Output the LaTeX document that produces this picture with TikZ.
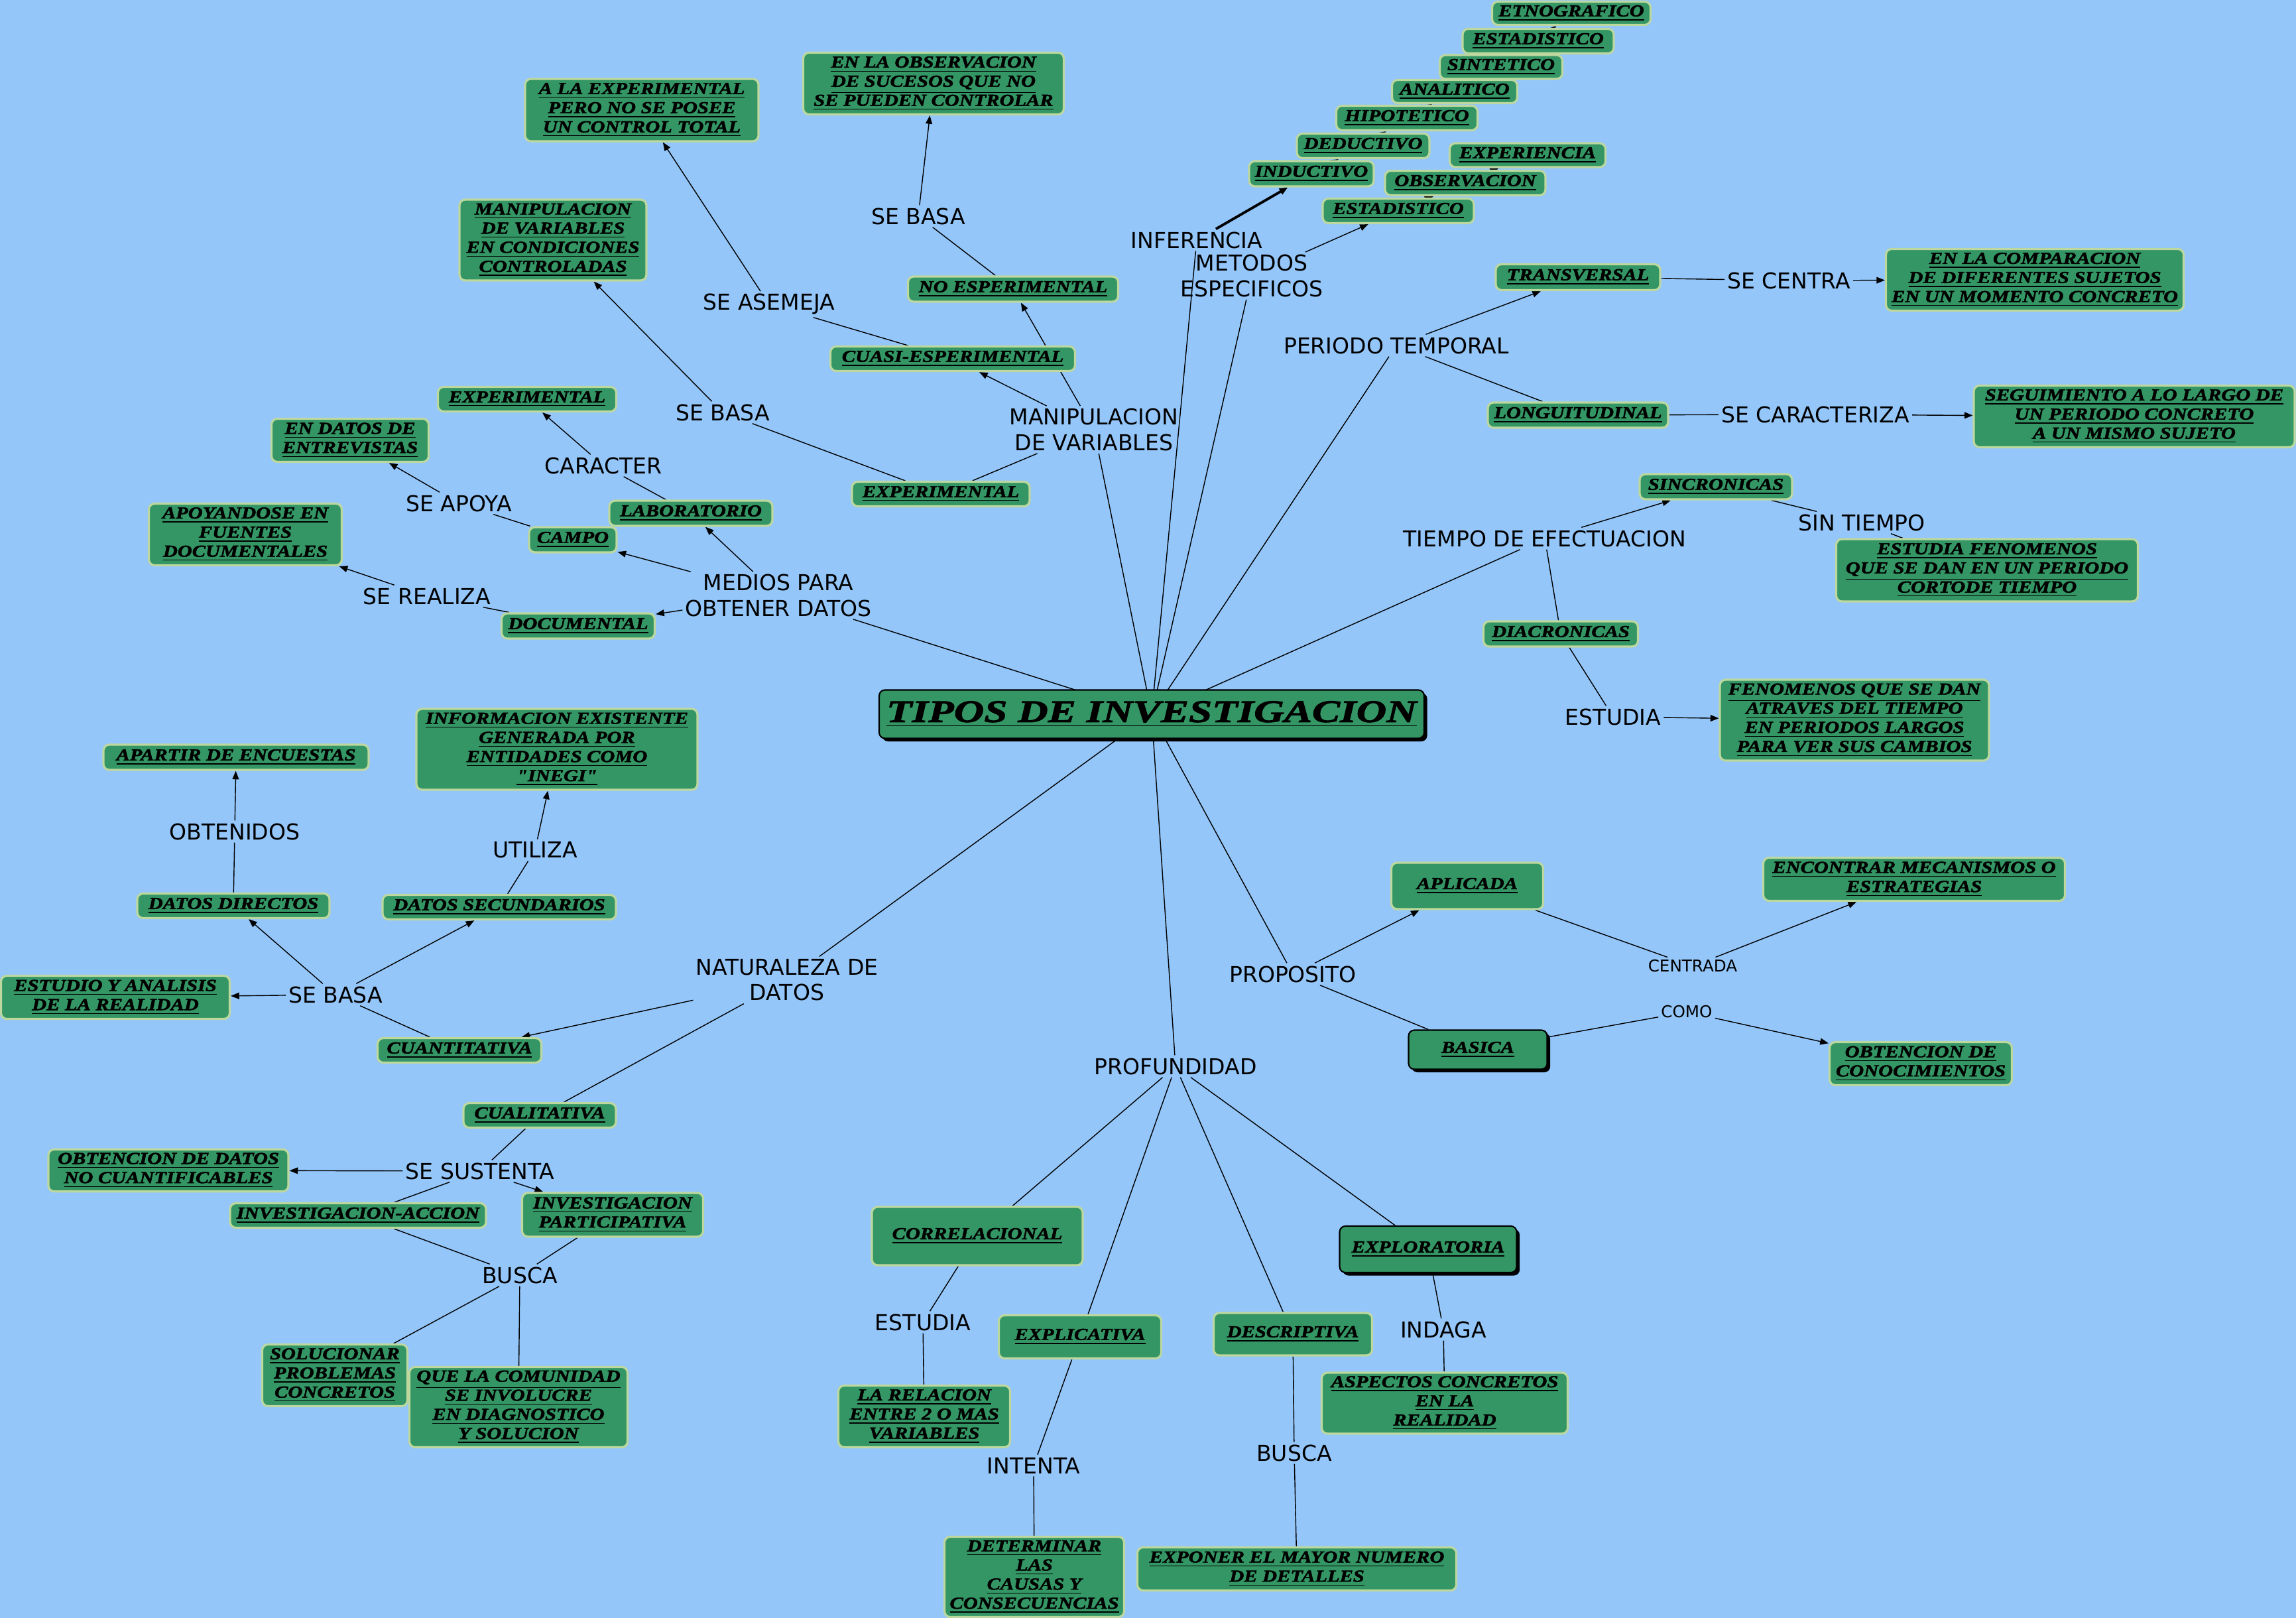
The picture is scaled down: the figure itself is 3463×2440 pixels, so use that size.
\documentclass[tikz,border=0pt]{standalone}
\usepackage{fontspec}
\usepackage{tikz}
\usetikzlibrary{arrows.meta,shadows}
\newfontfamily\etiqueta{DejaVu Sans}
\newfontfamily\concepto{Liberation Serif}[FakeStretch=1.2,FakeBold=2]
\newfontfamily\titulo{Liberation Serif}[FakeStretch=1.33,FakeBold=2]
\definecolor{azulFondo}{HTML}{94C6FA}
\definecolor{verdeCaja}{HTML}{339664}
\definecolor{bordeCaja}{HTML}{BCD89E}
\newcommand{\lin}[1]{\underline{#1}}
\pgfdeclarelayer{fondo}
\pgfdeclarelayer{lineas}
\pgfsetlayers{fondo,lineas,main}
\tikzset{
  caja/.style={rectangle,rounded corners=2.5pt,fill=verdeCaja,draw=bordeCaja,line width=0.9pt,
    align=center,inner xsep=2pt,inner ysep=1.5pt,font=\concepto\bfseries\itshape\fontsize{7.2}{8.2}\selectfont},
  sombra/.style={caja,draw=black,line width=0.6pt,drop shadow={shadow xshift=1.3pt,shadow yshift=-1.3pt,fill=black,opacity=1}},
  tam/.style 2 args={minimum width=#1*0.01cm,minimum height=#2*0.01cm},
  enlace/.style={inner sep=1pt,align=center,font=\etiqueta\fontsize{9.4}{10.9}\selectfont},
  enlacechico/.style={enlace,font=\etiqueta\fontsize{7}{8}\selectfont},
  conector/.style={line width=0.4pt},
  flecha/.style={conector,-{Triangle[length=3.6pt,width=2.8pt]}}
}

\begin{document}
\begin{tikzpicture}[x=0.01cm,y=-0.01cm]
\useasboundingbox (0,0) rectangle (3463,2440);
\begin{pgfonlayer}{fondo}
\fill[azulFondo] (0,0) rectangle (3463,2440);
\end{pgfonlayer}

\node[sombra,tam={822}{73},font=\titulo\bfseries\itshape\fontsize{13.5}{15}\selectfont] (tipos) at (1737,1077) {\lin{TIPOS DE INVESTIGACION}};

\node[caja,tam={239}{35}] (etnografico) at (2370,20) {\lin{ETNOGRAFICO}};
\node[caja,tam={228}{37}] (estadisticoA) at (2320,62) {\lin{ESTADISTICO}};
\node[caja,tam={185}{36}] (sintetico) at (2264,101) {\lin{SINTETICO}};
\node[caja,tam={189}{35}] (analitico) at (2194,138) {\lin{ANALITICO}};
\node[caja,tam={213}{37}] (hipotetico) at (2122,178) {\lin{HIPOTETICO}};
\node[caja,tam={200}{37}] (deductivo) at (2056,220) {\lin{DEDUCTIVO}};
\node[caja,tam={188}{38}] (inductivo) at (1978,262) {\lin{INDUCTIVO}};
\node[caja,tam={235}{36}] (experiencia) at (2304,234) {\lin{EXPERIENCIA}};
\node[caja,tam={242}{37}] (observacion) at (2210,276) {\lin{OBSERVACION}};
\node[caja,tam={228}{37}] (estadisticoB) at (2109,318) {\lin{ESTADISTICO}};
\node[enlace] (inferencia) at (1805,362) {INFERENCIA};
\node[enlace] (metodos) at (1888,416) {METODOS\\ESPECIFICOS};

\node[caja,tam={393}{93}] (sucesos) at (1408,126) {\lin{EN LA OBSERVACION}\\\lin{DE SUCESOS QUE NO}\\\lin{SE PUEDEN CONTROLAR}};
\node[enlace] (sebasaA) at (1385,326) {SE BASA};
\node[caja,tam={317}{38}] (noexp) at (1528,436) {\lin{NO ESPERIMENTAL}};
\node[caja,tam={369}{37}] (cuasi) at (1437,541) {\lin{CUASI-ESPERIMENTAL}};
\node[caja,tam={268}{37}] (experimental) at (1419,745) {\lin{EXPERIMENTAL}};
\node[enlace] (manip) at (1650,648) {MANIPULACION\\DE VARIABLES};
\node[enlace] (seasemeja) at (1160,459) {SE ASEMEJA};
\node[caja,tam={352}{94}] (control) at (968,166) {\lin{A LA EXPERIMENTAL}\\\lin{PERO NO SE POSEE}\\\lin{UN CONTROL TOTAL}};
\node[enlace] (sebasaB) at (1090,622) {SE BASA};
\node[caja,tam={282}{122}] (condiciones) at (834,362) {\lin{MANIPULACION}\\\lin{DE VARIABLES}\\\lin{EN CONDICIONES}\\\lin{CONTROLADAS}};

\node[enlace] (medios) at (1174,898) {MEDIOS PARA\\OBTENER DATOS};
\node[caja,tam={246}{38}] (laboratorio) at (1042,774) {\lin{LABORATORIO}};
\node[caja,tam={132}{38}] (campo) at (864,814) {\lin{CAMPO}};
\node[caja,tam={231}{38}] (documental) at (872,944) {\lin{DOCUMENTAL}};
\node[enlace] (caracter) at (910,702) {CARACTER};
\node[caja,tam={269}{37}] (experimentalB) at (795,602) {\lin{EXPERIMENTAL}};
\node[enlace] (seapoya) at (692,759) {SE APOYA};
\node[caja,tam={237}{65}] (entrevistas) at (528,664) {\lin{EN DATOS DE}\\\lin{ENTREVISTAS}};
\node[enlace] (serealiza) at (644,899) {SE REALIZA};
\node[caja,tam={291}{93}] (fuentes) at (370,806) {\lin{APOYANDOSE EN}\\\lin{FUENTES}\\\lin{DOCUMENTALES}};

\node[enlace] (periodo) at (2106,521) {PERIODO TEMPORAL};
\node[caja,tam={248}{39}] (transversal) at (2380,418) {\lin{TRANSVERSAL}};
\node[enlace] (secentra) at (2698,423) {SE CENTRA};
\node[caja,tam={449}{93}] (comparacion) at (3069,422) {\lin{EN LA COMPARACION}\\\lin{DE DIFERENTES SUJETOS}\\\lin{EN UN MOMENTO CONCRETO}};
\node[caja,tam={272}{38}] (longitudinal) at (2380,626) {\lin{LONGUITUDINAL}};
\node[enlace] (secaracteriza) at (2738,625) {SE CARACTERIZA};
\node[caja,tam={484}{93}] (seguimiento) at (3219,628) {\lin{SEGUIMIENTO A LO LARGO DE}\\\lin{UN PERIODO CONCRETO}\\\lin{A UN MISMO SUJETO}};

\node[enlace] (tiempo) at (2330,812) {TIEMPO DE EFECTUACION};
\node[caja,tam={230}{38}] (sincronicas) at (2588,734) {\lin{SINCRONICAS}};
\node[enlace] (sintiempo) at (2808,788) {SIN TIEMPO};
\node[caja,tam={455}{94}] (corto) at (2997,860) {\lin{ESTUDIA FENOMENOS}\\\lin{QUE SE DAN EN UN PERIODO}\\\lin{CORTODE TIEMPO}};
\node[caja,tam={233}{38}] (diacronicas) at (2354,956) {\lin{DIACRONICAS}};
\node[enlace] (estudiaA) at (2433,1081) {ESTUDIA};
\node[caja,tam={406}{122}] (largo) at (2797,1086) {\lin{FENOMENOS QUE SE DAN}\\\lin{ATRAVES DEL TIEMPO}\\\lin{EN PERIODOS LARGOS}\\\lin{PARA VER SUS CAMBIOS}};

\node[enlace] (proposito) at (1950,1469) {PROPOSITO};
\node[caja,tam={229}{70}] (aplicada) at (2213,1336) {\lin{APLICADA}};
\node[enlacechico] (centrada) at (2553,1457) {CENTRADA};
\node[caja,tam={455}{65}] (mecanismos) at (2887,1326) {\lin{ENCONTRAR MECANISMOS O}\\\lin{ESTRATEGIAS}};
\node[sombra,tam={209}{59}] (basica) at (2229,1583) {\lin{BASICA}};
\node[enlacechico] (como) at (2544,1526) {COMO};
\node[caja,tam={275}{65}] (conocimientos) at (2897,1604) {\lin{OBTENCION DE}\\\lin{CONOCIMIENTOS}};

\node[enlace] (profundidad) at (1773,1608) {PROFUNDIDAD};
\node[caja,tam={318}{88}] (correlacional) at (1474,1864) {\lin{CORRELACIONAL}};
\node[enlace] (estudiaB) at (1392,1994) {ESTUDIA};
\node[caja,tam={259}{93}] (relacion) at (1394,2136) {\lin{LA RELACION}\\\lin{ENTRE 2 O MAS}\\\lin{VARIABLES}};
\node[caja,tam={245}{65}] (explicativa) at (1629,2016) {\lin{EXPLICATIVA}};
\node[enlace] (intenta) at (1559,2210) {INTENTA};
\node[caja,tam={271}{119}] (causas) at (1560,2378) {\lin{DETERMINAR}\\\lin{LAS}\\\lin{CAUSAS Y}\\\lin{CONSECUENCIAS}};
\node[caja,tam={239}{64}] (descriptiva) at (1950,2012) {\lin{DESCRIPTIVA}};
\node[enlace] (buscaB) at (1952,2191) {BUSCA};
\node[caja,tam={481}{65}] (detalles) at (1956,2366) {\lin{EXPONER EL MAYOR NUMERO}\\\lin{DE DETALLES}};
\node[sombra,tam={267}{70}] (exploratoria) at (2154,1884) {\lin{EXPLORATORIA}};
\node[enlace] (indaga) at (2177,2005) {INDAGA};
\node[caja,tam={371}{92}] (aspectos) at (2179,2116) {\lin{ASPECTOS CONCRETOS}\\\lin{EN LA}\\\lin{REALIDAD}};

\node[enlace] (naturaleza) at (1187,1478) {NATURALEZA DE\\DATOS};
\node[caja,tam={247}{37}] (cuantitativa) at (693,1584) {\lin{CUANTITATIVA}};
\node[enlace] (sebasaC) at (506,1500) {SE BASA};
\node[caja,tam={345}{65}] (realidad) at (174,1504) {\lin{ESTUDIO Y ANALISIS}\\\lin{DE LA REALIDAD}};
\node[caja,tam={290}{37}] (directos) at (352,1366) {\lin{DATOS DIRECTOS}};
\node[enlace] (obtenidos) at (354,1254) {OBTENIDOS};
\node[caja,tam={400}{38}] (encuestas) at (356,1142) {\lin{APARTIR DE ENCUESTAS}};
\node[caja,tam={352}{37}] (secundarios) at (753,1368) {\lin{DATOS SECUNDARIOS}};
\node[enlace] (utiliza) at (807,1282) {UTILIZA};
\node[caja,tam={424}{122}] (inegi) at (840,1130) {\lin{INFORMACION EXISTENTE}\\\lin{GENERADA POR}\\\lin{ENTIDADES COMO}\\\lin{"INEGI"}};
\node[caja,tam={230}{37}] (cualitativa) at (814,1682) {\lin{CUALITATIVA}};
\node[enlace] (sesustenta) at (724,1766) {SE SUSTENTA};
\node[caja,tam={362}{62}] (nocuant) at (254,1765) {\lin{OBTENCION DE DATOS}\\\lin{NO CUANTIFICABLES}};
\node[caja,tam={386}{37}] (invaccion) at (540,1833) {\lin{INVESTIGACION-ACCION}};
\node[caja,tam={273}{66}] (invpart) at (924,1832) {\lin{INVESTIGACION}\\\lin{PARTICIPATIVA}};
\node[enlace] (buscaA) at (784,1923) {BUSCA};
\node[caja,tam={219}{93}] (problemas) at (505,2074) {\lin{SOLUCIONAR}\\\lin{PROBLEMAS}\\\lin{CONCRETOS}};
\node[caja,tam={329}{121}] (comunidad) at (782,2122) {\lin{QUE LA COMUNIDAD}\\\lin{SE INVOLUCRE}\\\lin{EN DIAGNOSTICO}\\\lin{Y SOLUCION}};

\begin{pgfonlayer}{lineas}
\foreach \destino in {medios,manip,inferencia,metodos,periodo,tiempo,proposito,profundidad,naturaleza}
  \draw[conector] (tipos.center) -- (\destino);
\draw[flecha,line width=1.1pt] (inferencia) -- (inductivo);
\draw[flecha] (metodos) -- (estadisticoB);
\draw[flecha] (inductivo) -- (deductivo);
\draw[flecha] (deductivo) -- (hipotetico);
\draw[flecha] (hipotetico) -- (analitico);
\draw[flecha] (analitico) -- (sintetico);
\draw[flecha] (sintetico) -- (estadisticoA);
\draw[flecha] (estadisticoA) -- (etnografico);
\draw[flecha] (estadisticoB) -- (observacion);
\draw[flecha] (observacion) -- (experiencia);
\draw[conector] (manip) -- (experimental);
\draw[flecha] (manip) -- (cuasi);
\draw[flecha] (manip) -- (noexp);
\draw[conector] (noexp) -- (sebasaA);
\draw[flecha] (sebasaA) -- (sucesos);
\draw[conector] (cuasi) -- (seasemeja);
\draw[flecha] (seasemeja) -- (control);
\draw[conector] (experimental) -- (sebasaB);
\draw[flecha] (sebasaB) -- (condiciones);
\draw[flecha] (medios) -- (campo);
\draw[flecha] (medios) -- (laboratorio);
\draw[flecha] (medios) -- (documental);
\draw[conector] (laboratorio) -- (caracter);
\draw[flecha] (caracter) -- (experimentalB);
\draw[conector] (campo) -- (seapoya);
\draw[flecha] (seapoya) -- (entrevistas);
\draw[conector] (documental) -- (serealiza);
\draw[flecha] (serealiza) -- (fuentes);
\draw[flecha] (periodo) -- (transversal);
\draw[conector] (periodo) -- (longitudinal);
\draw[conector] (transversal) -- (secentra);
\draw[flecha] (secentra) -- (comparacion);
\draw[conector] (longitudinal) -- (secaracteriza);
\draw[flecha] (secaracteriza) -- (seguimiento);
\draw[flecha] (tiempo) -- (sincronicas);
\draw[conector] (tiempo) -- (diacronicas);
\draw[conector] (sincronicas) -- (sintiempo);
\draw[conector] (sintiempo) -- (corto);
\draw[conector] (diacronicas) -- (estudiaA);
\draw[flecha] (estudiaA) -- (largo);
\draw[flecha] (proposito) -- (aplicada);
\draw[conector] (proposito) -- (basica);
\draw[conector] (aplicada) -- (centrada);
\draw[flecha] (centrada) -- (mecanismos);
\draw[conector] (basica) -- (como);
\draw[flecha] (como) -- (conocimientos);
\foreach \tipo/\enl/\fin in {correlacional/estudiaB/relacion,explicativa/intenta/causas,descriptiva/buscaB/detalles,exploratoria/indaga/aspectos}
  \draw[conector] (profundidad) -- (\tipo) -- (\enl) -- (\fin);
\draw[flecha] (naturaleza) -- (cuantitativa);
\draw[conector] (naturaleza) -- (cualitativa);
\draw[conector] (cuantitativa) -- (sebasaC);
\draw[flecha] (sebasaC) -- (directos);
\draw[flecha] (sebasaC) -- (secundarios);
\draw[flecha] (sebasaC) -- (realidad);
\draw[conector] (directos) -- (obtenidos);
\draw[flecha] (obtenidos) -- (encuestas);
\draw[conector] (secundarios) -- (utiliza);
\draw[flecha] (utiliza) -- (inegi);
\draw[conector] (cualitativa) -- (sesustenta);
\draw[flecha] (sesustenta) -- (nocuant);
\draw[conector] (sesustenta) -- (invaccion);
\draw[flecha] (sesustenta) -- (invpart);
\draw[conector] (invaccion) -- (buscaA);
\draw[conector] (invpart) -- (buscaA);
\draw[conector] (buscaA) -- (problemas);
\draw[conector] (buscaA) -- (comunidad);
\end{pgfonlayer}
\end{tikzpicture}
\end{document}
